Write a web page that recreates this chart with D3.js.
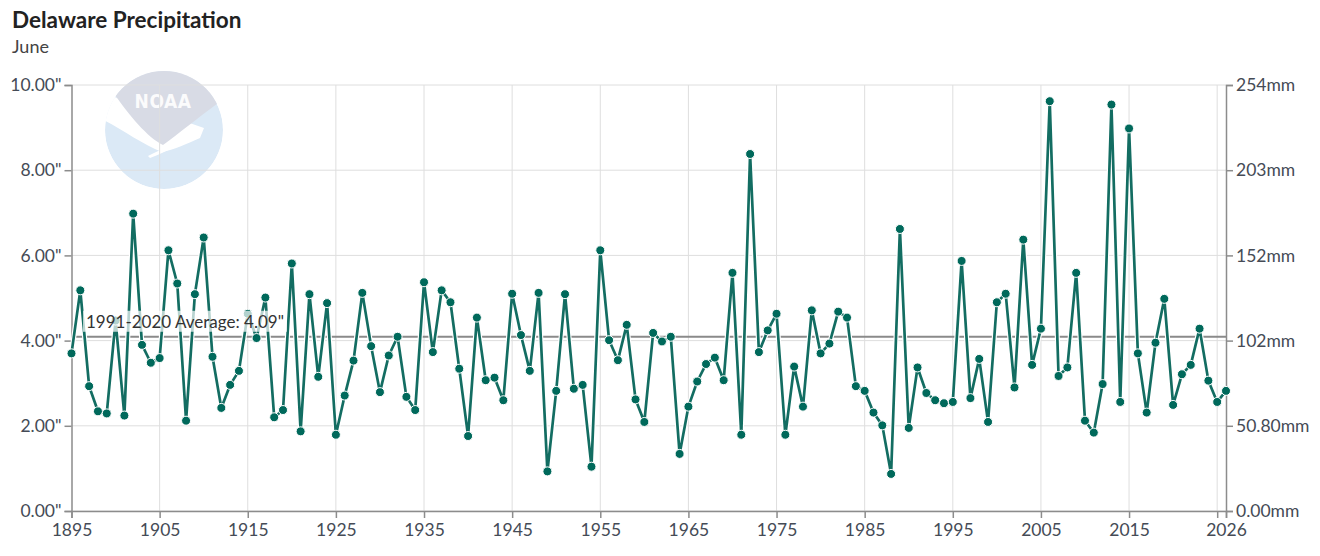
<!DOCTYPE html>
<html>
<head>
<meta charset="utf-8">
<script src="https://cdn.jsdelivr.net/npm/d3@7"></script>
<style>
  body { margin: 0; background: #fff; }
  svg { display: block; font-family: Lato, "Noto Sans", sans-serif; }
</style>
</head>
<body>
<svg id="chart" width="1320" height="556"></svg>
<script>
// June precipitation, inches
const years = d3.range(1895, 2027);
const precip = [
  3.70, 5.18, 2.93, 2.34, 2.29, 4.47, 2.24, 6.98, 3.90, 3.48,
  3.59, 6.12, 5.34, 2.12, 5.09, 6.42, 3.62, 2.42, 2.96, 3.29,
  4.63, 4.06, 5.01, 2.20, 2.37, 5.81, 1.87, 5.09, 3.15, 4.88,
  1.79, 2.71, 3.53, 5.12, 3.87, 2.79, 3.65, 4.09, 2.68, 2.37,
  5.37, 3.73, 5.18, 4.90, 3.34, 1.76, 4.54, 3.07, 3.13, 2.60,
  5.10, 4.13, 3.29, 5.12, 0.93, 2.82, 5.09, 2.87, 2.96, 1.04,
  6.12, 4.01, 3.54, 4.37, 2.62, 2.09, 4.18, 3.98, 4.09, 1.34,
  2.45, 3.04, 3.45, 3.60, 3.07, 5.59, 1.79, 8.38, 3.73, 4.24,
  4.63, 1.79, 3.39, 2.45, 4.71, 3.70, 3.93, 4.68, 4.54, 2.93,
  2.82, 2.31, 2.01, 0.87, 6.62, 1.95, 3.37, 2.77, 2.60, 2.53,
  2.56, 5.87, 2.65, 3.57, 2.09, 4.90, 5.10, 2.90, 6.37, 3.43,
  4.28, 9.62, 3.17, 3.37, 5.59, 2.12, 1.84, 2.98, 9.54, 2.56,
  8.98, 3.70, 2.31, 3.95, 4.98, 2.49, 3.21, 3.43, 4.28, 3.06,
  2.56, 2.82
];
const average = 4.09;
const yTicks = [0, 2, 4, 6, 8, 10];
const mmLabels = ["0.00mm", "50.80mm", "102mm", "152mm", "203mm", "254mm"];
const xTicks = [1895, 1905, 1915, 1925, 1935, 1945, 1955, 1965, 1975, 1985, 1995, 2005, 2015, 2025, 2026];
const xGrid = [1905, 1915, 1925, 1935, 1945, 1955, 1965, 1975, 1985, 1995, 2005, 2015, 2025];

const data = years.map((y, i) => ({ year: y, value: precip[i] }));

const margin = { top: 85, right: 94, bottom: 45, left: 71.5 };
const width = 1320, height = 556;
const svg = d3.select("#chart");

const x = d3.scaleLinear().domain([1895, 2026]).range([margin.left, width - margin.right]);
const y = d3.scaleLinear().domain([0, 10]).range([height - margin.bottom, margin.top]);

// title
svg.append("text").attr("x", 12).attr("y", 28)
  .attr("font-size", 22.5).attr("font-weight", 700).attr("fill", "#222")
  .text("Delaware Precipitation");
svg.append("text").attr("x", 12).attr("y", 53)
  .attr("font-size", 18).attr("fill", "#444")
  .text("June");

// NOAA watermark (behind the grid)
const logo = svg.append("g").attr("transform", "translate(164,130)");
logo.append("clipPath").attr("id", "logoClip")
  .append("circle").attr("r", 59);
const lg = logo.append("g").attr("clip-path", "url(#logoClip)");
lg.append("circle").attr("r", 59).attr("fill", "#dbe9f6");
// white gull band
lg.append("path").attr("fill", "#fff")
  .attr("d", "M-70,-40 L-70,-14 C-48,-6 -24,14 -2,22 C10,20 22,14 36,8 L40,-2 Z");
lg.append("path").attr("fill", "#fff")
  .attr("d", "M-16,26 C-4,20 6,15 15,12 L12,16 C4,20 -6,25 -14,28 Z");
// gray upper shield
lg.append("path").attr("fill", "#d8dbe5")
  .attr("d", "M-70,-70 L-70,-42 L-49,-35 C-36,-16 -16,8 -1,15 C14,4 34,-12 54,-27 L70,-31 L70,-70 Z");
logo.append("text").attr("x", -1).attr("y", -22)
  .attr("text-anchor", "middle").attr("font-size", 19).attr("font-weight", 700)
  .attr("font-family", "DejaVu Sans Condensed, DejaVu Sans, sans-serif")
  .attr("fill", "#fff").attr("opacity", 0.9).attr("letter-spacing", 0.5)
  .text("NOAA");

// grid
svg.append("g").selectAll("line").data(yTicks).join("line")
  .attr("x1", margin.left).attr("x2", width - margin.right)
  .attr("y1", d => y(d)).attr("y2", d => y(d))
  .attr("stroke", "#dedede").attr("stroke-width", 1);
svg.append("g").selectAll("line").data(xGrid).join("line")
  .attr("x1", d => x(d)).attr("x2", d => x(d))
  .attr("y1", y(10)).attr("y2", y(0))
  .attr("stroke", "#dedede").attr("stroke-width", 1);

// axes
const axisColor = "#8c8c8c";
const tickText = "#454b56";
const styleAxis = g => {
  g.select(".domain").attr("stroke", axisColor).attr("stroke-width", 1.5);
  g.selectAll(".tick line").attr("stroke", axisColor).attr("stroke-width", 1.5);
  g.selectAll(".tick text").attr("fill", tickText).attr("font-size", 17.5)
    .attr("font-family", "Lato, 'Noto Sans', sans-serif");
};

svg.append("g").attr("transform", `translate(${margin.left},0)`)
  .call(d3.axisLeft(y).tickValues(yTicks).tickSize(7).tickPadding(3)
    .tickFormat(d => d.toFixed(2) + '"'))
  .call(styleAxis);

svg.append("g").attr("transform", `translate(${width - margin.right},0)`)
  .call(d3.axisRight(y).tickValues(yTicks).tickSize(7).tickPadding(3)
    .tickFormat((d, i) => mmLabels[i]))
  .call(styleAxis);

svg.append("g").attr("transform", `translate(0,${height - margin.bottom})`)
  .call(d3.axisBottom(x).tickValues(xTicks).tickSize(7).tickPadding(6)
    .tickFormat(d => d === 2025 ? "" : String(d)))
  .call(styleAxis);

// average line
svg.append("line")
  .attr("x1", margin.left).attr("x2", width - margin.right)
  .attr("y1", y(average)).attr("y2", y(average))
  .attr("stroke", "#8a8a8a").attr("stroke-width", 2);

// series
const line = d3.line().x(d => x(d.year)).y(d => y(d.value));
svg.append("path").datum(data).attr("d", line)
  .attr("fill", "none").attr("stroke", "#fff").attr("stroke-width", 5)
  .attr("stroke-linejoin", "round");
svg.append("path").datum(data).attr("d", line)
  .attr("fill", "none").attr("stroke", "#136d62").attr("stroke-width", 2.7)
  .attr("stroke-linejoin", "round");
svg.append("g").selectAll("circle").data(data).join("circle")
  .attr("cx", d => x(d.year)).attr("cy", d => y(d.value)).attr("r", 4.5)
  .attr("fill", "#00695b").attr("stroke", "#fff").attr("stroke-width", 1);

// average label with translucent backing
const lab = svg.append("g");
const labText = lab.append("text").attr("x", 86).attr("y", y(average) - 9)
  .attr("font-size", 17).attr("fill", "#333")
  .text(`1991-2020 Average: ${average.toFixed(2)}"`);
const bb = labText.node().getBBox();
lab.insert("rect", "text")
  .attr("x", bb.x - 3).attr("y", bb.y).attr("width", bb.width + 6).attr("height", bb.height)
  .attr("fill", "#fff").attr("opacity", 0.7);
</script>
</body>
</html>
